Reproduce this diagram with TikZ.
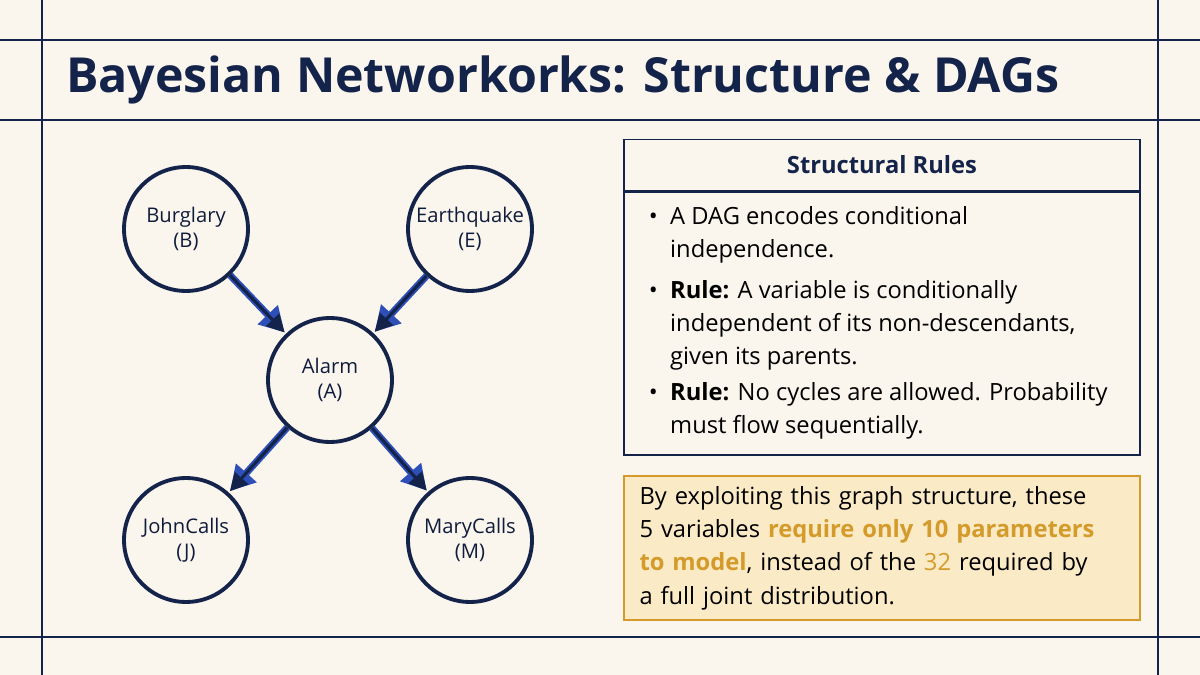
\documentclass[tikz,border=0pt]{standalone}
\usepackage{fontspec}
\setmainfont{Open Sans}
\usetikzlibrary{arrows.meta,positioning}
\definecolor{navy}{HTML}{14234A}
\definecolor{paper}{HTML}{FAF6EE}
\definecolor{arrowblue}{HTML}{2E4FB8}
\definecolor{gold}{HTML}{D49A2A}
\definecolor{goldfill}{HTML}{FBEAC6}
\tikzset{
	% frame lines
	frame/.style={draw=navy, line width=0.8pt},
	% network variables
	var/.style={circle, draw=navy, line width=2.2pt, fill=paper,
		minimum size=2.48cm, inner sep=0pt, align=center, font=\fontsize{11.5}{14.5}\selectfont, text=navy!80!black},
	% edges of the DAG
	edge/.style={-{Triangle[length=14pt,width=15pt]}, line width=4pt, draw=arrowblue, shorten >=1pt,
		postaction={draw=navy, line width=1.8pt, -{Triangle[length=10pt,width=10pt]}}},
	% text panels
	panel/.style={rectangle, draw=navy, line width=1pt, fill=paper, minimum width=10.32cm},
	% bullet items
	item/.style={anchor=north west, font=\fontsize{13.5}{19}\selectfont, align=left},
}
\newcommand{\bul}{\makebox[0pt][r]{\textbullet\hspace{7pt}}}
\begin{document}
\begin{tikzpicture}[x=0.02cm, y=-0.02cm]
	\fill[paper] (0,0) rectangle (1200,675);
	\useasboundingbox (0,0) rectangle (1200,675);
	% frame
	\draw[frame] (0,40) -- (1200,40);
	\draw[frame] (0,120) -- (1200,120);
	\draw[frame] (0,637) -- (1200,637);
	\draw[frame] (42,0) -- (42,675);
	\draw[frame] (1158,0) -- (1158,675);
	% title
	\node[anchor=west, text=navy, font=\fontsize{27.5}{32}\selectfont\bfseries] (title) at (60,80) {Bayesian Networkorks: Structure \& DAGs};
	% nodes
	\node[var] (burglary) at (186,229) {Burglary\\(B)};
	\node[var] (earthquake) at (470,229) {Earthquake\\(E)};
	\node[var] (alarm) at (330,380) {Alarm\\(A)};
	\node[var] (john) at (186,540) {JohnCalls\\(J)};
	\node[var] (mary) at (470,540) {MaryCalls\\(M)};
	% edges
	\draw[edge] (burglary) -- (alarm);
	\draw[edge] (earthquake) -- (alarm);
	\draw[edge] (alarm) -- (john);
	\draw[edge] (alarm) -- (mary);
	% rules panel
	\node[panel, minimum height=1.02cm, font=\fontsize{13.5}{15}\selectfont\bfseries, text=navy] (head) at (882,165) {Structural Rules};
	\node[panel, anchor=north, minimum height=5.26cm, below=0pt of head] (rules) {};
	\node[item] (rule1) at (664,200) {\bul A DAG encodes conditional\\independence.};
	\node[item] (rule2) at (664,274) {\bul\textbf{Rule:} A variable is conditionally\\independent of its non-descendants,\\given its parents.};
	\node[item] (rule3) at (664,376) {\bul\textbf{Rule:} No cycles are allowed. Probability\\must flow sequentially.};
	% note
	\node[rectangle, draw=gold, line width=1.2pt, fill=goldfill, minimum width=10.32cm, minimum height=2.88cm,
		text width=9.7cm, font=\fontsize{13.5}{19}\selectfont, align=left] (note) at (882,548)
		{By exploiting this graph structure, these\\5 variables \textcolor{gold}{\textbf{require only 10 parameters}}\\\textcolor{gold}{\textbf{to model}}, instead of the \textcolor{gold}{32} required by\\a full joint distribution.};
\end{tikzpicture}
\end{document}
